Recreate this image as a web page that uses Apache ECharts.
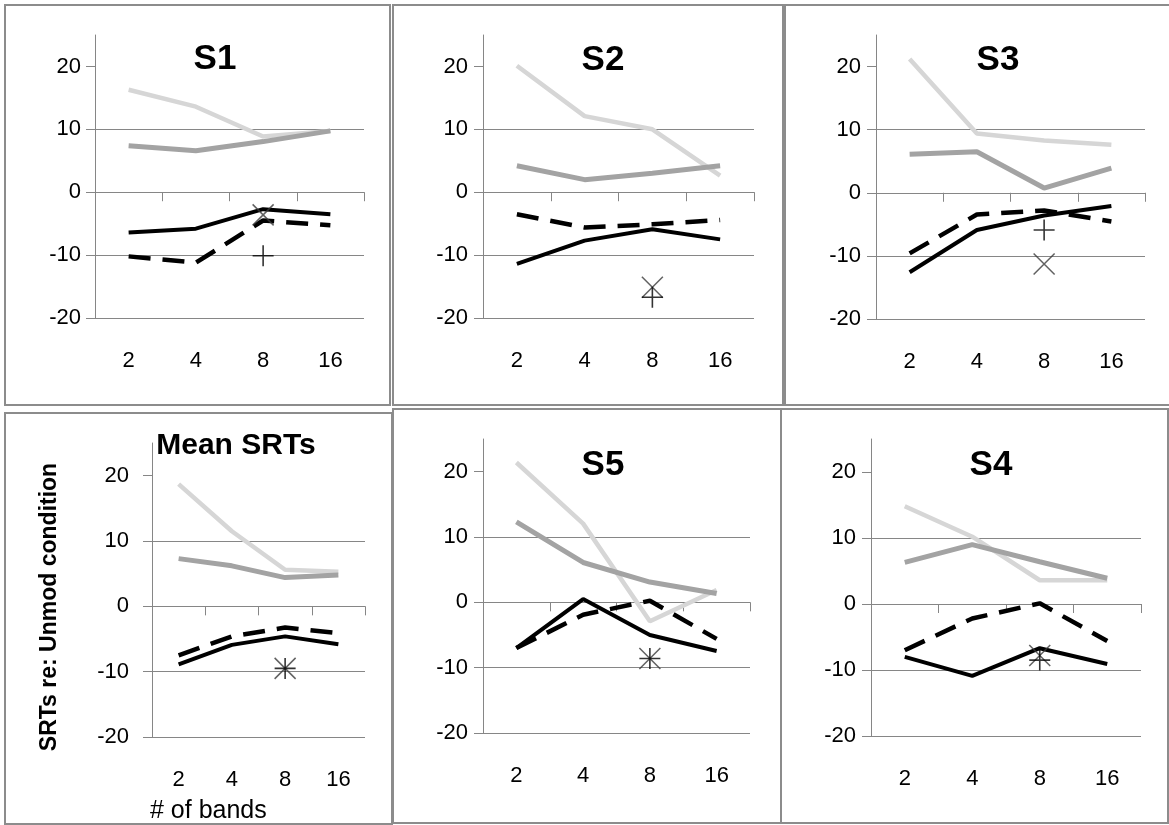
<!DOCTYPE html>
<html>
<head>
<meta charset="utf-8">
<title>SRTs re: Unmod condition by number of bands</title>
<script src="https://cdn.jsdelivr.net/npm/echarts@6/dist/echarts.min.js"></script>
<style>
  html, body { margin: 0; padding: 0; background: #ffffff; }
  #chart { width: 1169px; height: 825px; }
</style>
</head>
<body>
<div id="chart"></div>
<script>
// ---- data -------------------------------------------------------------
const categories = ['2', '4', '8', '16'];
const yTicks = [-20, -10, 0, 10, 20];
const panelTitles = ['S1', 'S2', 'S3', 'Mean SRTs', 'S5', 'S4'];

// S1
const s1Light  = [16.3, 13.6, 8.85, 9.75];
const s1Medium = [7.4, 6.6, 8.05, 9.75];
const s1Solid  = [-6.4, -5.8, -2.7, -3.5];
const s1Dashed = [-10.2, -11.2, -4.5, -5.25];
// S2
const s2Light  = [20.1, 12.1, 10.0, 2.65];
const s2Medium = [4.2, 2.0, 3.0, 4.2];
const s2Solid  = [-11.4, -7.7, -5.9, -7.5];
const s2Dashed = [-3.5, -5.6, -5.1, -4.4];
// S3
const s3Light  = [21.2, 9.4, 8.3, 7.6];
const s3Medium = [6.1, 6.5, 0.75, 3.9];
const s3Solid  = [-12.6, -5.9, -3.6, -2.1];
const s3Dashed = [-9.6, -3.45, -2.8, -4.55];
// Mean SRTs
const meanLight  = [18.7, 11.5, 5.6, 5.3];
const meanMedium = [7.3, 6.2, 4.4, 4.8];
const meanSolid  = [-8.9, -5.9, -4.6, -5.8];
const meanDashed = [-7.5, -4.6, -3.25, -4.1];
// S5
const s5Light  = [21.4, 12.05, -2.9, 1.9];
const s5Medium = [12.3, 6.1, 3.1, 1.35];
const s5Solid  = [-7.0, 0.5, -5.0, -7.45];
const s5Dashed = [-7.0, -1.9, 0.25, -5.6];
// S4
const s4Light  = [14.8, 10.2, 3.6, 3.6];
const s4Medium = [6.3, 9.0, 6.4, 3.9];
const s4Solid  = [-8.0, -10.9, -6.7, -9.1];
const s4Dashed = [-7.0, -2.2, 0.1, -5.6];

// single points measured at 8 bands (panel order: S1, S2, S3, Mean, S5, S4)
const plusAt8  = [-10.1, -16.7, -5.9, -9.5, -8.6, -8.5];
const crossAt8 = [-3.6, -15.1, -11.3, -9.5, -8.6, -7.8];

const lightLines  = [s1Light, s2Light, s3Light, meanLight, s5Light, s4Light];
const mediumLines = [s1Medium, s2Medium, s3Medium, meanMedium, s5Medium, s4Medium];
const solidLines  = [s1Solid, s2Solid, s3Solid, meanSolid, s5Solid, s4Solid];
const dashedLines = [s1Dashed, s2Dashed, s3Dashed, meanDashed, s5Dashed, s4Dashed];

// ---- layout & style ---------------------------------------------------
const FONT = '"Liberation Sans", Arial, sans-serif';
const AXIS_GREY = '#868686';
const FRAME_GREY = '#8c8c8c';

// outer frame of each panel
const frames = [
  { x: 5,   y: 5,   w: 385, h: 400 },
  { x: 393, y: 5,   w: 390, h: 400 },
  { x: 785, y: 5,   w: 390, h: 400 },
  { x: 5,   y: 413, w: 387, h: 411 },
  { x: 393, y: 409, w: 388, h: 414 },
  { x: 781, y: 409, w: 387, h: 414 }
];

// plot areas (value axis spans -20 .. 25)
const plots = [
  { left: 95,  top: 35,  width: 269, height: 283, labelGap: 14, tx: 215, ty: 59,  tsize: 35 },
  { left: 483, top: 35,  width: 271, height: 283, labelGap: 15, tx: 603, ty: 60,  tsize: 35 },
  { left: 876, top: 35,  width: 269, height: 284, labelGap: 15, tx: 998, ty: 60,  tsize: 35 },
  { left: 152, top: 443, width: 213, height: 294, labelGap: 23, tx: 236, ty: 446, tsize: 30 },
  { left: 483, top: 439, width: 267, height: 294, labelGap: 15, tx: 603, ty: 465, tsize: 35 },
  { left: 871, top: 439, width: 270, height: 297, labelGap: 15, tx: 991, ty: 465, tsize: 35 }
];

const PLUS_PATH  = 'path://M10,0L10,20M0,10L20,10';
const CROSS_PATH = 'path://M0,0L20,20M20,0L0,20';

const grid = [], xAxis = [], yAxis = [], series = [], graphic = [];

plots.forEach((p, i) => {
  grid.push({ left: p.left, top: p.top, width: p.width, height: p.height });

  // axis line with ticks, sitting on the zero line
  xAxis.push({
    type: 'category', gridIndex: i, data: categories, position: 'bottom',
    boundaryGap: true,
    axisLine: { onZero: true, lineStyle: { color: AXIS_GREY, width: 1 } },
    axisTick: { show: true, length: 9, lineStyle: { color: AXIS_GREY, width: 1 } },
    axisLabel: { show: false },
    splitLine: { show: false }
  });
  // category labels below the plot
  xAxis.push({
    type: 'category', gridIndex: i, data: categories, position: 'bottom',
    boundaryGap: true,
    axisLine: { show: false, onZero: false },
    axisTick: { show: false },
    axisLabel: { show: true, margin: 32, fontFamily: FONT, fontSize: 22, color: '#000' },
    splitLine: { show: false }
  });

  yAxis.push({
    type: 'value', gridIndex: i, min: -20, max: 25, interval: 10,
    axisLine: { show: true, onZero: false, lineStyle: { color: AXIS_GREY, width: 1 } },
    axisTick: { show: true, length: 9, customValues: yTicks, lineStyle: { color: AXIS_GREY, width: 1 } },
    axisLabel: { customValues: yTicks, margin: p.labelGap, fontFamily: FONT, fontSize: 22, color: '#000' },
    splitLine: { show: true, showMaxLine: false, lineStyle: { color: AXIS_GREY, width: 1 } }
  });

  const xi = i * 2;
  series.push(
    {
      type: 'line', xAxisIndex: xi, yAxisIndex: i, data: lightLines[i],
      showSymbol: false, silent: true, z: 2,
      lineStyle: { color: '#d6d6d6', width: 4.5 }
    },
    {
      type: 'line', xAxisIndex: xi, yAxisIndex: i, data: mediumLines[i],
      showSymbol: false, silent: true, z: 3,
      lineStyle: { color: '#a3a3a3', width: 5 }
    },
    {
      type: 'line', xAxisIndex: xi, yAxisIndex: i, data: dashedLines[i],
      showSymbol: false, silent: true, z: 4,
      lineStyle: { color: '#000000', width: 4.5, type: [22, 12] }
    },
    {
      type: 'line', xAxisIndex: xi, yAxisIndex: i, data: solidLines[i],
      showSymbol: false, silent: true, z: 5,
      lineStyle: { color: '#000000', width: 4 }
    },
    {
      type: 'scatter', xAxisIndex: xi, yAxisIndex: i, data: [['8', crossAt8[i]]],
      symbol: CROSS_PATH, symbolSize: 21, silent: true, z: 6,
      itemStyle: { color: 'none', borderColor: '#3a3a3a', borderWidth: 1.5 }
    },
    {
      type: 'scatter', xAxisIndex: xi, yAxisIndex: i, data: [['8', plusAt8[i]]],
      symbol: PLUS_PATH, symbolSize: 21, silent: true, z: 7,
      itemStyle: { color: 'none', borderColor: '#000000', borderWidth: 1.6 }
    }
  );

  // panel title
  graphic.push({
    type: 'text', x: p.tx, y: p.ty, z: 100,
    style: {
      text: panelTitles[i], font: 'bold ' + p.tsize + 'px ' + FONT,
      fill: '#000', align: 'center', verticalAlign: 'middle'
    }
  });
});

// panel frames
frames.forEach(f => {
  graphic.push({
    type: 'rect', z: 1, silent: true,
    shape: { x: f.x, y: f.y, width: f.w, height: f.h },
    style: { fill: 'none', stroke: FRAME_GREY, lineWidth: 2 }
  });
});

// axis titles of the mean panel
graphic.push({
  type: 'text', x: 50, y: 607, rotation: Math.PI / 2, z: 100,
  style: {
    text: 'SRTs re: Unmod condition', font: 'bold 23px ' + FONT,
    fill: '#000', align: 'center', verticalAlign: 'middle'
  }
});
graphic.push({
  type: 'text', x: 150, y: 811, z: 100,
  style: {
    text: '# of bands', font: '25px ' + FONT,
    fill: '#000', align: 'left', verticalAlign: 'middle'
  }
});

const chart = echarts.init(document.getElementById('chart'), null, { renderer: 'canvas' });
chart.setOption({
  animation: false,
  backgroundColor: '#ffffff',
  grid, xAxis, yAxis, series, graphic
});
</script>
</body>
</html>
